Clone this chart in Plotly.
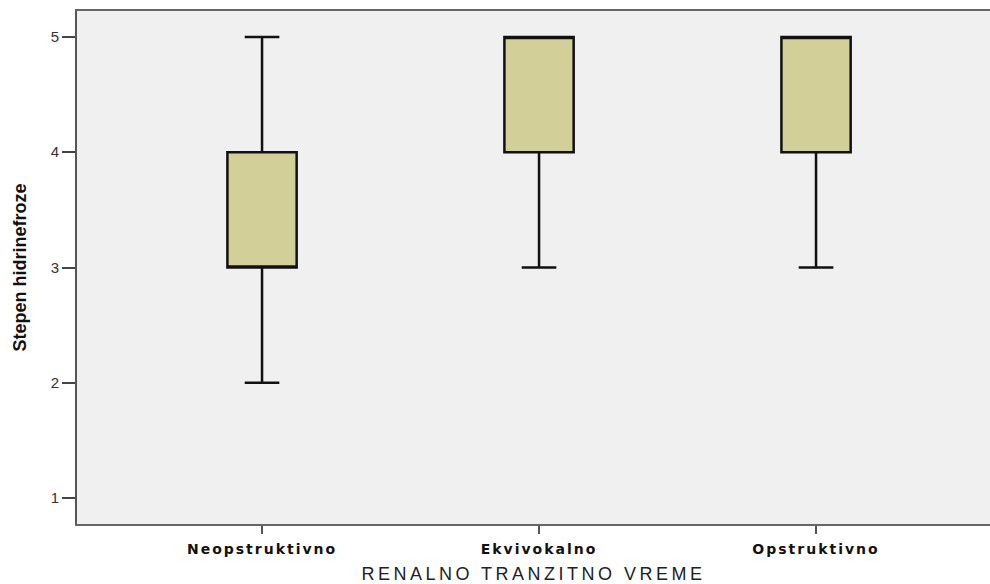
import plotly.graph_objects as go

categories = ["Neopstruktivno", "Ekvivokalno", "Opstruktivno"]
positions = [0, 1, 2]
lower_whisker = [2, 3, 3]
q1_values = [3, 4, 4]
median_values = [3, 5, 5]
q3_values = [4, 5, 5]
upper_whisker = [5, 5, 5]
y_ticks = [1, 2, 3, 4, 5]

fig = go.Figure()
fig.add_trace(go.Box(
    x=positions,
    q1=q1_values,
    median=median_values,
    q3=q3_values,
    lowerfence=lower_whisker,
    upperfence=upper_whisker,
    width=0.25,
    whiskerwidth=0.5,
    fillcolor="#d3cf98",
    line=dict(color="#111111", width=2.5),
    boxpoints=False,
    hoverinfo="skip",
    showlegend=False,
))

fig.update_layout(
    width=990, height=584,
    margin=dict(l=77, r=0, t=11, b=60, autoexpand=False),
    paper_bgcolor="white",
    plot_bgcolor="#f0f0f0",
    font=dict(family="Liberation Sans, Arial, sans-serif", color="#222222"),
    xaxis=dict(
        range=[-0.668, 2.628],
        tickmode="array",
        tickvals=positions,
        ticktext=categories,
        tickfont=dict(family="DejaVu Sans, sans-serif", size=14, color="#111111", weight="bold"),
        ticks="outside", ticklen=8, tickwidth=2, tickcolor="#555555",
        ticklabelstandoff=3,
        showline=True, linecolor="#666666", linewidth=2, mirror=True,
        showgrid=False, zeroline=False, automargin=False,
        title=dict(text="RENALNO TRANZITNO VREME",
                   font=dict(family="Liberation Sans, Arial, sans-serif", size=18, color="#222222"),
                   standoff=14),
    ),
    yaxis=dict(
        range=[0.775, 5.225],
        tickmode="array",
        tickvals=y_ticks,
        tickfont=dict(family="Liberation Sans, Arial, sans-serif", size=15, color="#333333"),
        ticks="outside", ticklen=13, tickwidth=2, tickcolor="#444444",
        showline=True, linecolor="#555555", linewidth=2,
        showgrid=False, zeroline=False, automargin=False,
        title=dict(text="Stepen hidrinefroze",
                   font=dict(family="Liberation Sans Narrow, Arial Narrow, sans-serif", size=18, color="#111111", weight="bold"),
                   standoff=19),
    ),
)

post = """
document.body.style.margin = '0';
document.body.style.overflow = 'hidden';
document.querySelectorAll('.xtick text').forEach(function(t){ t.style.letterSpacing = '2px'; });
document.querySelectorAll('.g-xtitle text').forEach(function(t){ t.style.letterSpacing = '3.5px'; });
"""

fig.write_html("out.html", post_script=post, config={"displayModeBar": False})
